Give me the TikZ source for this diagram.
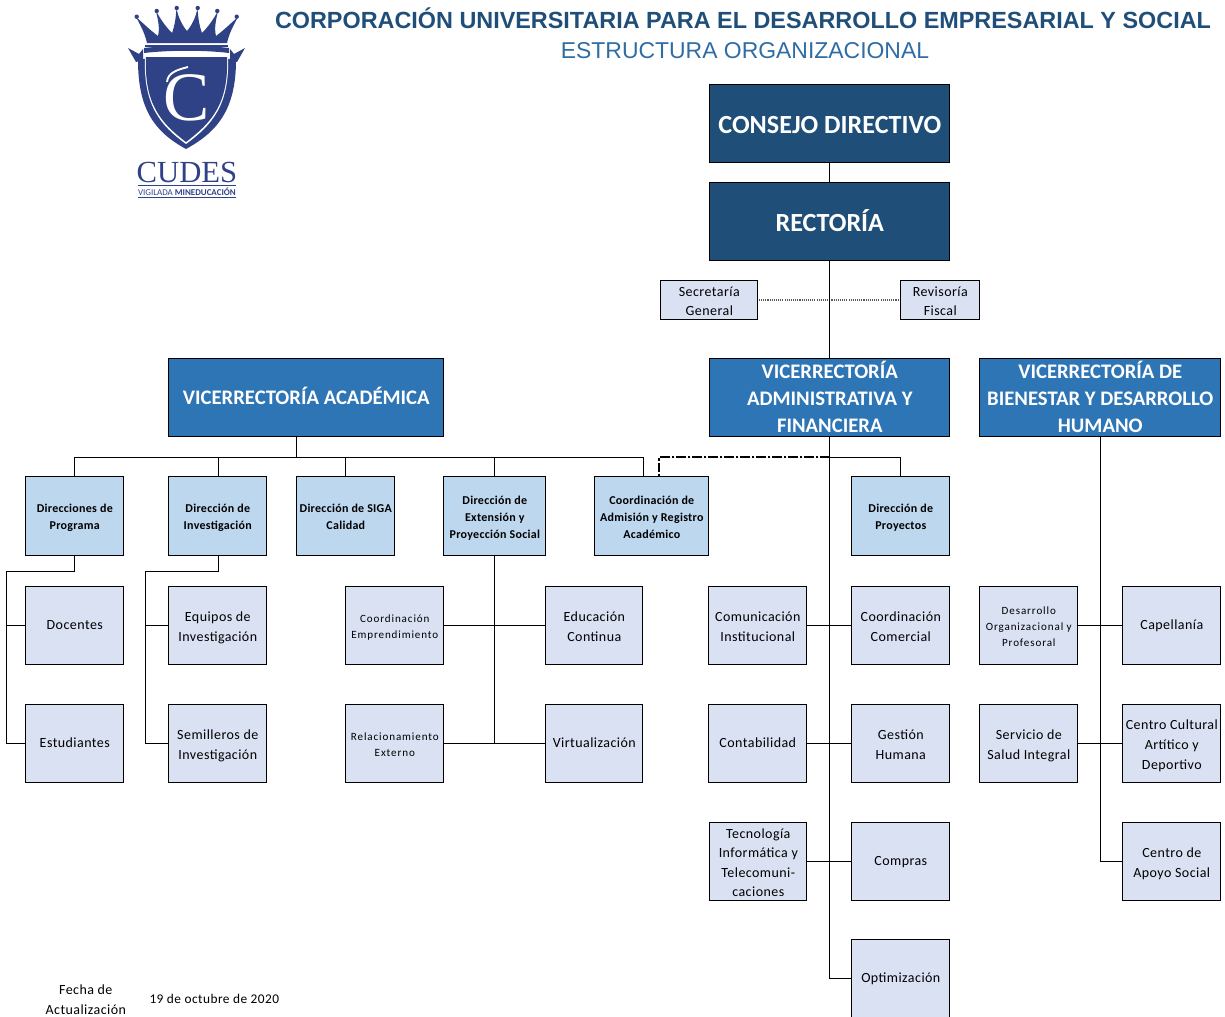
\documentclass[tikz,border=0pt]{standalone}
\usepackage{fontspec}
\setmainfont{Carlito}
\newfontfamily\arialf{Liberation Sans}
\newfontfamily\serifl{Liberation Serif}
\definecolor{cdark}{HTML}{1F4E79}
\definecolor{cmid}{HTML}{2E75B6}
\definecolor{clight}{HTML}{BDD7EE}
\definecolor{clilac}{HTML}{D9E1F2}
\definecolor{clogo}{HTML}{2F4286}
\definecolor{ctitle}{HTML}{1F4E79}
\definecolor{csub}{HTML}{2E6CA4}
\newdimen\txkern
\newcommand{\tx}[1]{\setbox0=\hbox{\begin{tabular}{@{}c@{}}#1\end{tabular}}\ht0=\dimexpr\ht0-8pt\relax\dp0=\dimexpr\dp0-8pt\relax\vbox{\kern\txkern\box0}}
\newcommand{\bx}[7]{%
 \node[#5,minimum width=#3*0.75pt-#1*0.75pt,minimum height=#4*0.75pt-#2*0.75pt] (#6) at ({(#1+#3)/2},{(#2+#4)/2}) {\tx{#7}};}
\tikzset{
 bxbase/.style={draw=black,line width=0.75pt,inner sep=0pt,align=center,text=black},
 bxtop/.style={bxbase,fill=cdark,text=white,font={\fontsize{19.6}{24}\selectfont\bfseries\txkern 5.6pt\relax}},
 bxvice/.style={bxbase,fill=cmid,text=white,font={\fontsize{15.5}{20.3}\selectfont\bfseries\txkern 3pt\relax}},
 bxdir/.style={bxbase,fill=clight,font={\fontsize{9}{12.8}\selectfont\bfseries\addfontfeature{LetterSpace=2.4}\txkern 2.5pt\relax}},
 bxsub/.style={bxbase,fill=clilac,font={\fontsize{10.5}{14.7}\selectfont\addfontfeature{LetterSpace=3.2}\txkern 2.6pt\relax}},
 bxsubs/.style={bxbase,fill=clilac,font={\fontsize{8.3}{12}\selectfont\addfontfeature{LetterSpace=8}\txkern 2.6pt\relax}},
 bxsmall/.style={bxbase,fill=clilac,font={\fontsize{10.5}{14.3}\selectfont\addfontfeature{LetterSpace=3.2}\txkern 2.6pt\relax}},
 conn/.style={draw=black,line width=0.85pt},
 free/.style={inner sep=0pt,align=center,text=black}
}
\begin{document}
\begin{tikzpicture}[x=0.75pt,y=-0.75pt]
\useasboundingbox (0,0) rectangle (1225,1017);
% logo
\begin{scope}
\fill[clogo] (147,43) .. controls (145,34) and (141,26) .. (136,17)
 .. controls (144,24) and (150,30) .. (158,36)
 .. controls (160,28) and (158,20) .. (156,11)
 .. controls (161,20) and (166,27) .. (172,33)
 .. controls (175,25) and (176,16) .. (176.5,8)
 .. controls (178,17) and (182,25) .. (187,31)
 .. controls (192,25) and (196,17) .. (197.5,8)
 .. controls (198,16) and (199,25) .. (202,33)
 .. controls (208,27) and (213,20) .. (218,11)
 .. controls (216,20) and (214,28) .. (216,36)
 .. controls (224,30) and (230,24) .. (238,17)
 .. controls (233,26) and (229,34) .. (227,43) -- cycle;
\foreach \x/\y in {136.7/16.7,156.7/11,176.7/8,197.7/8,217.3/11,236.7/16.7} \fill[clogo] (\x,\y) circle[radius=2.2];
\fill[clogo] (145,44.5) rectangle (228,46.5);
\fill[clogo] (144,48) .. controls (170,45) and (204,45) .. (229,48) -- (229,53) .. controls (204,50) and (170,50) .. (144,53) -- cycle;
\fill[clogo] (128,48) -- (139,54) -- (143,49) -- (143,60) -- (136,62) -- cycle;
\fill[clogo] (245,48) -- (234,54) -- (230,49) -- (230,60) -- (237,62) -- cycle;
\fill[clogo] (138,60) .. controls (138,110) and (155,132) .. (186,149) .. controls (217,132) and (236,110) .. (236,60) .. controls (220,56) and (150,56) .. (138,60) -- cycle;
\fill[white] (145,56) -- (228,56) .. controls (230,105) and (212,125) .. (186,144) .. controls (160,125) and (143,105) .. (145,56) -- cycle;
\fill[clogo] (146,57) -- (227,57) .. controls (229,104) and (211,123) .. (186,142) .. controls (161,123) and (144,104) .. (146,57) -- cycle;
\node[free,text=white,font=\fontsize{52}{52}\serifl] (logoc) at (187,98) {C};
\draw[white,line width=1.4pt] (167,82) .. controls (168,73) and (176,70) .. (188,67);
\node[free,text=clogo,font=\fontsize{23}{23}\serifl] (logot) at (187,172) {CUDES};
\fill[clogo] (138,185) rectangle (236,185.8);
\node[free,text=clogo,font=\fontsize{6.7}{7}\selectfont] (logov) at (187,191.5) {VIGILADA \textbf{MINEDUCACIÓN}};
\fill[clogo] (138,197) rectangle (236,197.8);
\end{scope}
% titles
\node[free,text=ctitle,font=\fontsize{17.54}{20}\arialf\bfseries] (t1) at (743,18.5) {CORPORACIÓN UNIVERSITARIA PARA EL DESARROLLO EMPRESARIAL Y SOCIAL};
\node[free,text=csub,font=\fontsize{17.2}{20}\arialf] (t2) at (745,50.5) {ESTRUCTURA ORGANIZACIONAL};
\begin{scope}[shift={(-0.2,-0.2)}]
% connectors behind
\draw[black!65,line width=1.1pt,dash pattern=on 0.8pt off 0.8pt] (661,300.1) -- (901,300.1);
% boxes
\bx{710}{85}{950}{163}{bxtop}{consejo}{CONSEJO DIRECTIVO}
\bx{710}{183}{950}{261}{bxtop}{rectoria}{RECTORÍA}
\bx{661}{281}{758}{320}{bxsmall}{secre}{Secretaría\\General}
\bx{901}{281}{980}{320}{bxsmall}{revi}{Revisoría\\Fiscal}
\bx{169}{359}{444}{437}{bxvice}{va}{VICERRECTORÍA ACADÉMICA}
\bx{710}{359}{950}{437}{bxvice}{vaf}{VICERRECTORÍA\\ADMINISTRATIVA Y\\FINANCIERA}
\bx{980}{359}{1221}{437}{bxvice}{vb}{VICERRECTORÍA DE\\BIENESTAR Y DESARROLLO\\HUMANO}
\bx{26}{477}{124}{556}{bxdir}{dp}{Direcciones de\\Programa}
\bx{169}{477}{267}{556}{bxdir}{di}{Dirección de\\Investigación}
\bx{297}{477}{395}{556}{bxdir}{ds}{Dirección de SIGA\\Calidad}
\bx{444}{477}{546}{556}{bxdir}{de}{Dirección de\\Extensión y\\Proyección Social}
\bx{595}{477}{709}{556}{bxdir}{ca}{Coordinación de\\Admisión y Registro\\Académico}
\bx{852}{477}{950}{556}{bxdir}{dpy}{Dirección de\\Proyectos}
\bx{26}{587}{124}{665}{bxsub}{doc}{Docentes}
\bx{169}{587}{267}{665}{bxsub}{eq}{Equipos de\\Investigación}
\bx{346}{587}{444}{665}{bxsubs}{em}{Coordinación\\Emprendimiento}
\bx{546}{587}{643}{665}{bxsub}{edu}{Educación\\Continua}
\bx{709}{587}{807}{665}{bxsub}{com}{Comunicación\\Institucional}
\bx{852}{587}{950}{665}{bxsub}{cc}{Coordinación\\Comercial}
\bx{980}{587}{1078}{665}{bxsubs}{dop}{Desarrollo\\Organizacional y\\Profesoral}
\bx{1123}{587}{1221}{665}{bxsub}{cap}{Capellanía}
\bx{26}{705}{124}{783}{bxsub}{est}{Estudiantes}
\bx{169}{705}{267}{783}{bxsub}{sem}{Semilleros de\\Investigación}
\bx{346}{705}{444}{783}{bxsubs}{rel}{Relacionamiento\\Externo}
\bx{546}{705}{643}{783}{bxsub}{vir}{Virtualización}
\bx{709}{705}{807}{783}{bxsub}{cont}{Contabilidad}
\bx{852}{705}{950}{783}{bxsub}{gh}{Gestión\\Humana}
\bx{980}{705}{1078}{783}{bxsub}{sal}{Servicio de\\Salud Integral}
\bx{1123}{705}{1221}{783}{bxsub}{cul}{Centro Cultural\\Artítico y\\Deportivo}
\bx{710}{823}{807}{901}{bxsub}{tec}{Tecnología\\Informática y\\Telecomuni-\\caciones}
\bx{852}{823}{950}{901}{bxsub}{cmp}{Compras}
\bx{1123}{823}{1221}{901}{bxsub}{apo}{Centro de\\Apoyo Social}
\bx{852}{940}{950}{1018}{bxsub}{opt}{Optimización}
% free text
\node[free,font=\fontsize{10.5}{15}\selectfont\addfontfeature{LetterSpace=3.2}] (fa) at (86,1000) {Fecha de\\Actualización};
\node[free,font=\fontsize{10}{12}\selectfont\addfontfeature{LetterSpace=3.5}] (fb) at (214.5,999) {19 de octubre de 2020};
% coordinates
\coordinate (busva) at (297,458);
\coordinate (busaf) at (830,457.1);
\coordinate (dash) at (659.6,457.1);
\coordinate (dashe) at (659.6,477);
\coordinate (dpl) at (7,572);
\coordinate (dil) at (146,572);
% connectors
\draw[conn] (consejo) -- (rectoria);
\draw[conn] (rectoria) -- (vaf);
\draw[conn] (297,437) -- (busva);
\draw[conn] (dp.north) |- (busva);
\draw[conn] (di.north) ++(1,0) |- (busva);
\draw[conn] (ds.north) ++(0,0) |- (busva);
\draw[conn] (de.north) |- (busva);
\draw[conn] (644,477) |- (busva);
\draw[conn] (vaf.south) |- (opt.west);
\draw[conn,line width=0.6pt] (busaf) -| (dpy.north);
\draw[line width=1.5pt,dash pattern=on 7pt off 1.5pt on 2pt off 1.5pt] (busaf) -- (dash) -- (dashe);
\draw[conn] (dp.south) -- (75,572) -- (dpl) |- (est.west);
\draw[conn] (dpl) |- (doc.west);
\draw[conn] (di.south) ++(1,0) -- (219,572) -- (dil) |- (sem.west);
\draw[conn] (dil) |- (eq.west);
\draw[conn] (de.south) -- (495,744);
\draw[conn] (em.east) -- (edu.west);
\draw[conn] (rel.east) -- (vir.west);
\draw[conn] (com.east) -- (cc.west);
\draw[conn] (cont.east) -- (gh.west);
\draw[conn] (tec.east) -- (cmp.west);
\draw[conn] (vb.south) |- (apo.west);
\draw[conn] (dop.east) -- (cap.west);
\draw[conn] (sal.east) -- (cul.west);
\end{scope}
\end{tikzpicture}
\end{document}
